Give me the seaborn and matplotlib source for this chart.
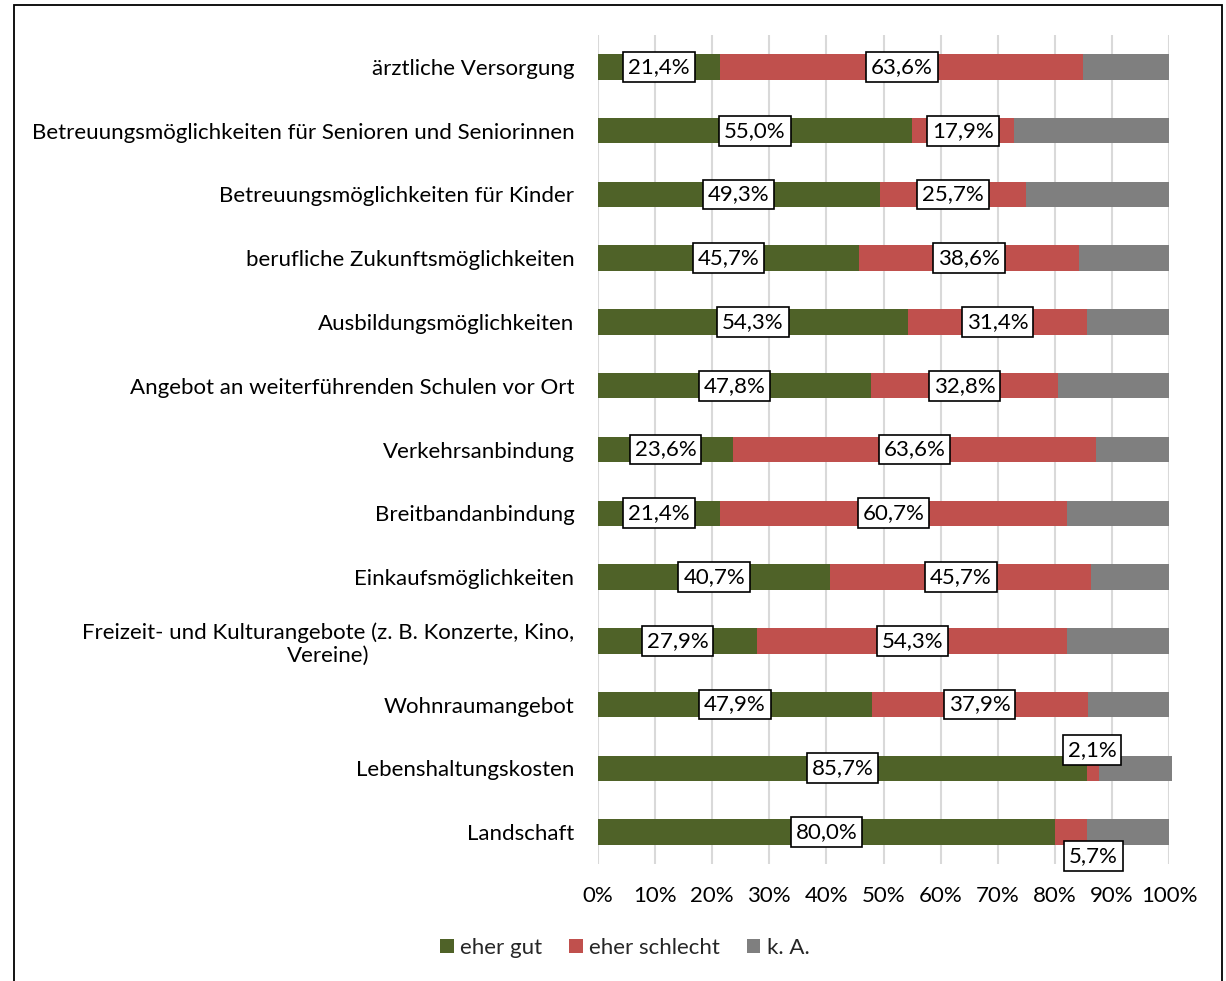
import matplotlib
matplotlib.use("Agg")
import matplotlib.pyplot as plt
from matplotlib.patches import Patch, Rectangle
import seaborn as sns
import pandas as pd

categories = [
    "ärztliche Versorgung",
    "Betreuungsmöglichkeiten für Senioren und Seniorinnen",
    "Betreuungsmöglichkeiten für Kinder",
    "berufliche Zukunftsmöglichkeiten",
    "Ausbildungsmöglichkeiten",
    "Angebot an weiterführenden Schulen vor Ort",
    "Verkehrsanbindung",
    "Breitbandanbindung",
    "Einkaufsmöglichkeiten",
    "Freizeit- und Kulturangebote (z. B. Konzerte, Kino,\nVereine)",
    "Wohnraumangebot",
    "Lebenshaltungskosten",
    "Landschaft",
]
eher_gut = [21.4, 55.0, 49.3, 45.7, 54.3, 47.8, 23.6, 21.4, 40.7, 27.9, 47.9, 85.7, 80.0]
eher_schlecht = [63.6, 17.9, 25.7, 38.6, 31.4, 32.8, 63.6, 60.7, 45.7, 54.3, 37.9, 2.1, 5.7]
k_a = [15.0, 27.1, 25.0, 15.7, 14.3, 19.4, 12.8, 17.9, 13.6, 17.8, 14.2, 12.7, 14.3]
series_names = ["eher gut", "eher schlecht", "k. A."]
tick_values = [0, 10, 20, 30, 40, 50, 60, 70, 80, 90, 100]

colors = {"eher gut": "#4F6228", "eher schlecht": "#C0504D", "k. A.": "#7F7F7F"}

sns.set_theme(style="white")
plt.rcParams["font.family"] = ["Lato", "DejaVu Sans"]
FS = 16

df = pd.DataFrame({
    "Kategorie": categories,
    "eher gut": eher_gut,
    "eher schlecht": eher_schlecht,
    "k. A.": k_a,
})
df["bis_schlecht"] = df["eher gut"] + df["eher schlecht"]
df["gesamt"] = df["bis_schlecht"] + df["k. A."]

W, H = 1226, 981
fig = plt.figure(figsize=(W / 100, H / 100), dpi=100)
ax = fig.add_axes([598 / W, 1 - 864 / H, (1169 - 598) / W, (864 - 35) / H])

# stacked bars: draw the cumulative totals back to front
for col, name in [("gesamt", "k. A."), ("bis_schlecht", "eher schlecht"), ("eher gut", "eher gut")]:
    sns.barplot(data=df, x=col, y="Kategorie", orient="h", color=colors[name],
                width=0.4, saturation=1, ax=ax, zorder=2, linewidth=0)
for p in ax.patches:
    p.set_clip_on(False)

ax.set_xlim(0, 100)
ax.set_ylim(len(categories) - 0.5, -0.5)
ax.set_xticks(tick_values)
ax.set_xticklabels([f"{v}%" for v in tick_values], fontsize=FS, color="#000000")
ax.set_xlabel("")
ax.set_ylabel("")
ax.grid(axis="x", color="#D9D9D9", linewidth=1.5, zorder=0)
ax.set_axisbelow(True)
for s in ax.spines.values():
    s.set_visible(False)
ax.tick_params(axis="x", length=0, pad=16)
ax.tick_params(axis="y", length=0, pad=17, labelsize=FS, labelcolor="#000000")
for lbl in ax.get_yticklabels():
    lbl.set_multialignment("center")

box = dict(boxstyle="square,pad=0.22", facecolor="white", edgecolor="black", linewidth=1.2)

def label(x, y, value, dx=0, dy=0):
    ax.annotate(f"{value:.1f}%".replace(".", ","), xy=(x, y), xytext=(dx, dy),
                textcoords="offset points", ha="center", va="center",
                fontsize=FS, color="black", bbox=box, zorder=5)

for i, (g, s) in enumerate(zip(eher_gut, eher_schlecht)):
    label(g / 2, i, g)
    if s >= 10:
        label(g + s / 2, i, s)
    elif i == len(categories) - 2:
        label(g + s / 2, i, s, dx=-1, dy=13)
    else:
        label(g + s / 2, i, s, dx=16, dy=-17)

handles = [Patch(facecolor=colors[n], edgecolor="none", label=n) for n in series_names]
fig.legend(handles=handles, loc="center", bbox_to_anchor=(625 / W, 1 - 948 / H),
           ncol=3, frameon=False, fontsize=FS, handlelength=0.6, handleheight=0.6,
           handletextpad=0.3, columnspacing=1.2)

fig.add_artist(Rectangle((14 / W, -0.05), (1222 - 14) / W, 1.05 - 5 / H,
                         transform=fig.transFigure, fill=False, edgecolor="black",
                         linewidth=1.3, clip_on=False))

fig.savefig("out.png", dpi=100)
